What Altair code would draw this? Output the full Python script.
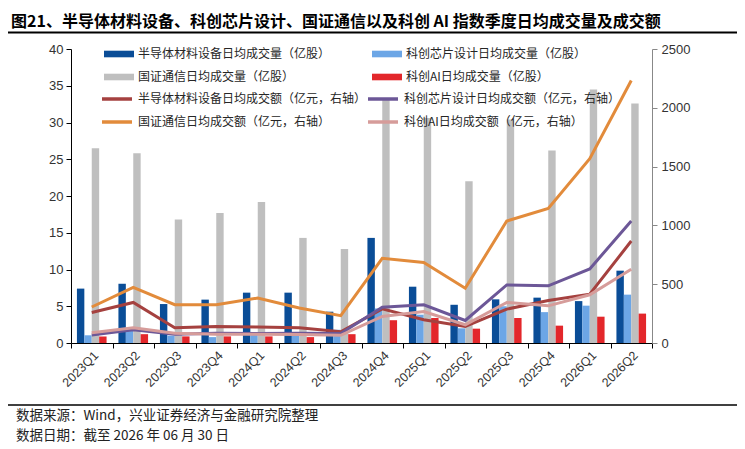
import altair as alt
import pandas as pd

quarters = ["2023Q1", "2023Q2", "2023Q3", "2023Q4", "2024Q1", "2024Q2", "2024Q3",
            "2024Q4", "2025Q1", "2025Q2", "2025Q3", "2025Q4", "2026Q1", "2026Q2"]

# left axis: 亿股
semi_vol = [7.4, 8.06, 5.3, 5.9, 6.85, 6.85, 4.26, 14.3, 7.66, 5.2, 5.94, 6.17, 5.7, 9.84]
chip_vol = [1.05, 1.7, 1.0, 0.8, 1.3, 1.35, 1.8, 4.7, 3.85, 2.0, 5.0, 4.2, 5.08, 6.58]
telecom_vol = [26.5, 25.8, 16.8, 17.7, 19.2, 14.3, 12.8, 33.1, 30.6, 22.0, 30.4, 26.2, 34.5, 32.6]
ai_vol = [0.9, 1.2, 0.9, 0.9, 0.9, 0.8, 1.2, 3.1, 3.4, 1.95, 3.4, 2.36, 3.58, 4.0]

# right axis: 亿元
semi_amt = [260, 345, 130, 140, 135, 130, 95, 290, 198, 141, 288, 362, 415, 867]
chip_amt = [68, 112, 75, 82, 80, 82, 80, 304, 325, 192, 494, 486, 630, 1037]
telecom_amt = [306, 473, 326, 326, 382, 297, 232, 720, 684, 466, 1037, 1144, 1568, 2232]
ai_amt = [88, 130, 82, 75, 75, 72, 65, 226, 268, 155, 345, 316, 410, 627]

bar_names = ["半导体材料设备日均成交量（亿股）", "科创芯片设计日均成交量（亿股）",
             "国证通信日均成交量（亿股）", "科创AI日均成交量（亿股）"]
bar_colors = ["#0A4D97", "#6CA6E6", "#BFBFBF", "#E3272B"]
line_names = ["半导体材料设备日均成交额（亿元，右轴）", "科创芯片设计日均成交额（亿元，右轴）",
              "国证通信日均成交额（亿元，右轴）", "科创AI日均成交额（亿元，右轴）"]
line_colors = ["#A5413F", "#6C5797", "#E28B3B", "#D69C9A"]

# legend order (legend fills column by column)
legend_order = [0, 2, 1, 3]

left_ticks = [0, 5, 10, 15, 20, 25, 30, 35, 40]
right_ticks = [0, 500, 1000, 1500, 2000, 2500]

title_text = "图21、半导体材料设备、科创芯片设计、国证通信以及科创 AI 指数季度日均成交量及成交额"
note1 = "数据来源：Wind，兴业证券经济与金融研究院整理"
note2 = "数据日期：截至 2026 年 06 月 30 日"

bar_df = pd.DataFrame([
    {"quarter": q, "series": n, "value": v}
    for n, vals in zip(bar_names, [semi_vol, chip_vol, telecom_vol, ai_vol])
    for q, v in zip(quarters, vals)
])
line_df = pd.DataFrame([
    {"quarter": q, "series": n, "value": v}
    for n, vals in zip(line_names, [semi_amt, chip_amt, telecom_amt, ai_amt])
    for q, v in zip(quarters, vals)
])
one = pd.DataFrame({"k": [0]})

CJK = "Noto Sans CJK SC"
NUM = "Liberation Sans"

x_enc = alt.X(
    "quarter:N", sort=quarters, title=None,
    scale=alt.Scale(paddingInner=0, paddingOuter=0),
    axis=alt.Axis(labelAngle=315, labelAlign="right", labelBaseline="middle",
                  tickBand="extent", tickSize=5, domainColor="#000", tickColor="#000",
                  labelFont=NUM, labelFontSize=12.5, labelColor="#333", labelPadding=5,
                  labelOffset=4),
)

bars = alt.Chart(bar_df).mark_bar().encode(
    x=x_enc,
    xOffset=alt.XOffset("series:N", sort=bar_names,
                        scale=alt.Scale(paddingInner=0, paddingOuter=0.8)),
    y=alt.Y("value:Q", scale=alt.Scale(domain=[0, 40], nice=False),
            axis=alt.Axis(title=None, values=left_ticks, grid=False, tickSize=5,
                          domainColor="#000", tickColor="#000", labelFont=NUM,
                          labelFontSize=13, labelColor="#333", labelPadding=3)),
    color=alt.Color("series:N",
                    scale=alt.Scale(domain=[bar_names[i] for i in legend_order],
                                    range=[bar_colors[i] for i in legend_order]),
                    legend=alt.Legend(title=None, orient="none", legendX=42, legendY=-1,
                                      columns=2, columnPadding=41, rowPadding=11,
                                      symbolType="M-2.5,-0.55H2.5V0.55H-2.5Z",
                                      symbolSize=144, symbolStrokeWidth=0, labelOffset=13,
                                      labelFontSize=12, labelFont=CJK, labelColor="#262626",
                                      padding=0, labelLimit=400)),
)

lines = alt.Chart(line_df).mark_line(strokeWidth=3).encode(
    x=alt.X("quarter:N", sort=quarters),
    y=alt.Y("value:Q", scale=alt.Scale(domain=[0, 2500], nice=False),
            axis=alt.Axis(orient="right", title=None, values=right_ticks, grid=False,
                          format="d", tickSize=5, domainColor="#888", tickColor="#888",
                          labelFont=NUM, labelFontSize=13, labelColor="#333",
                          labelPadding=4)),
    color=alt.Color("series:N",
                    scale=alt.Scale(domain=[line_names[i] for i in legend_order],
                                    range=[line_colors[i] for i in legend_order]),
                    legend=alt.Legend(title=None, orient="none", legendX=38, legendY=42,
                                      columns=2, columnPadding=-6, rowPadding=8,
                                      symbolType="M-2.5,0H2.5", symbolSize=144,
                                      symbolStrokeWidth=3.5, labelOffset=13,
                                      labelFontSize=12, labelFont=CJK, labelColor="#262626",
                                      padding=0, labelLimit=400)),
)

title_mark = alt.Chart(one).mark_text(
    align="left", baseline="middle", fontSize=16, fontWeight="bold", font=CJK, color="#000"
).encode(x=alt.value(-60), y=alt.value(-27), text=alt.value(title_text))

top_rule = alt.Chart(one).mark_rule(color="#000", strokeWidth=2).encode(
    x=alt.value(-63), x2=alt.value(666), y=alt.value(-16.5))
bottom_rule = alt.Chart(one).mark_rule(color="#000", strokeWidth=1.5).encode(
    x=alt.value(-65), x2=alt.value(666), y=alt.value(356))

note1_mark = alt.Chart(one).mark_text(
    align="left", baseline="middle", fontSize=13.5, font=CJK, color="#222"
).encode(x=alt.value(-55), y=alt.value(367), text=alt.value(note1))
note2_mark = alt.Chart(one).mark_text(
    align="left", baseline="middle", fontSize=13.5, font=CJK, color="#222"
).encode(x=alt.value(-55), y=alt.value(387), text=alt.value(note2))

chart = alt.layer(
    bars, lines, title_mark, top_rule, bottom_rule, note1_mark, note2_mark
).resolve_scale(
    y="independent", color="independent"
).properties(
    width=581, height=294,
    autosize=alt.AutoSizeParams(type="none"),
    padding={"left": 63, "top": 41, "right": 85, "bottom": 100},
    background="#ffffff",
).configure_view(stroke=None)

chart.save("out.html", embed_options={"renderer": "svg", "actions": False})
